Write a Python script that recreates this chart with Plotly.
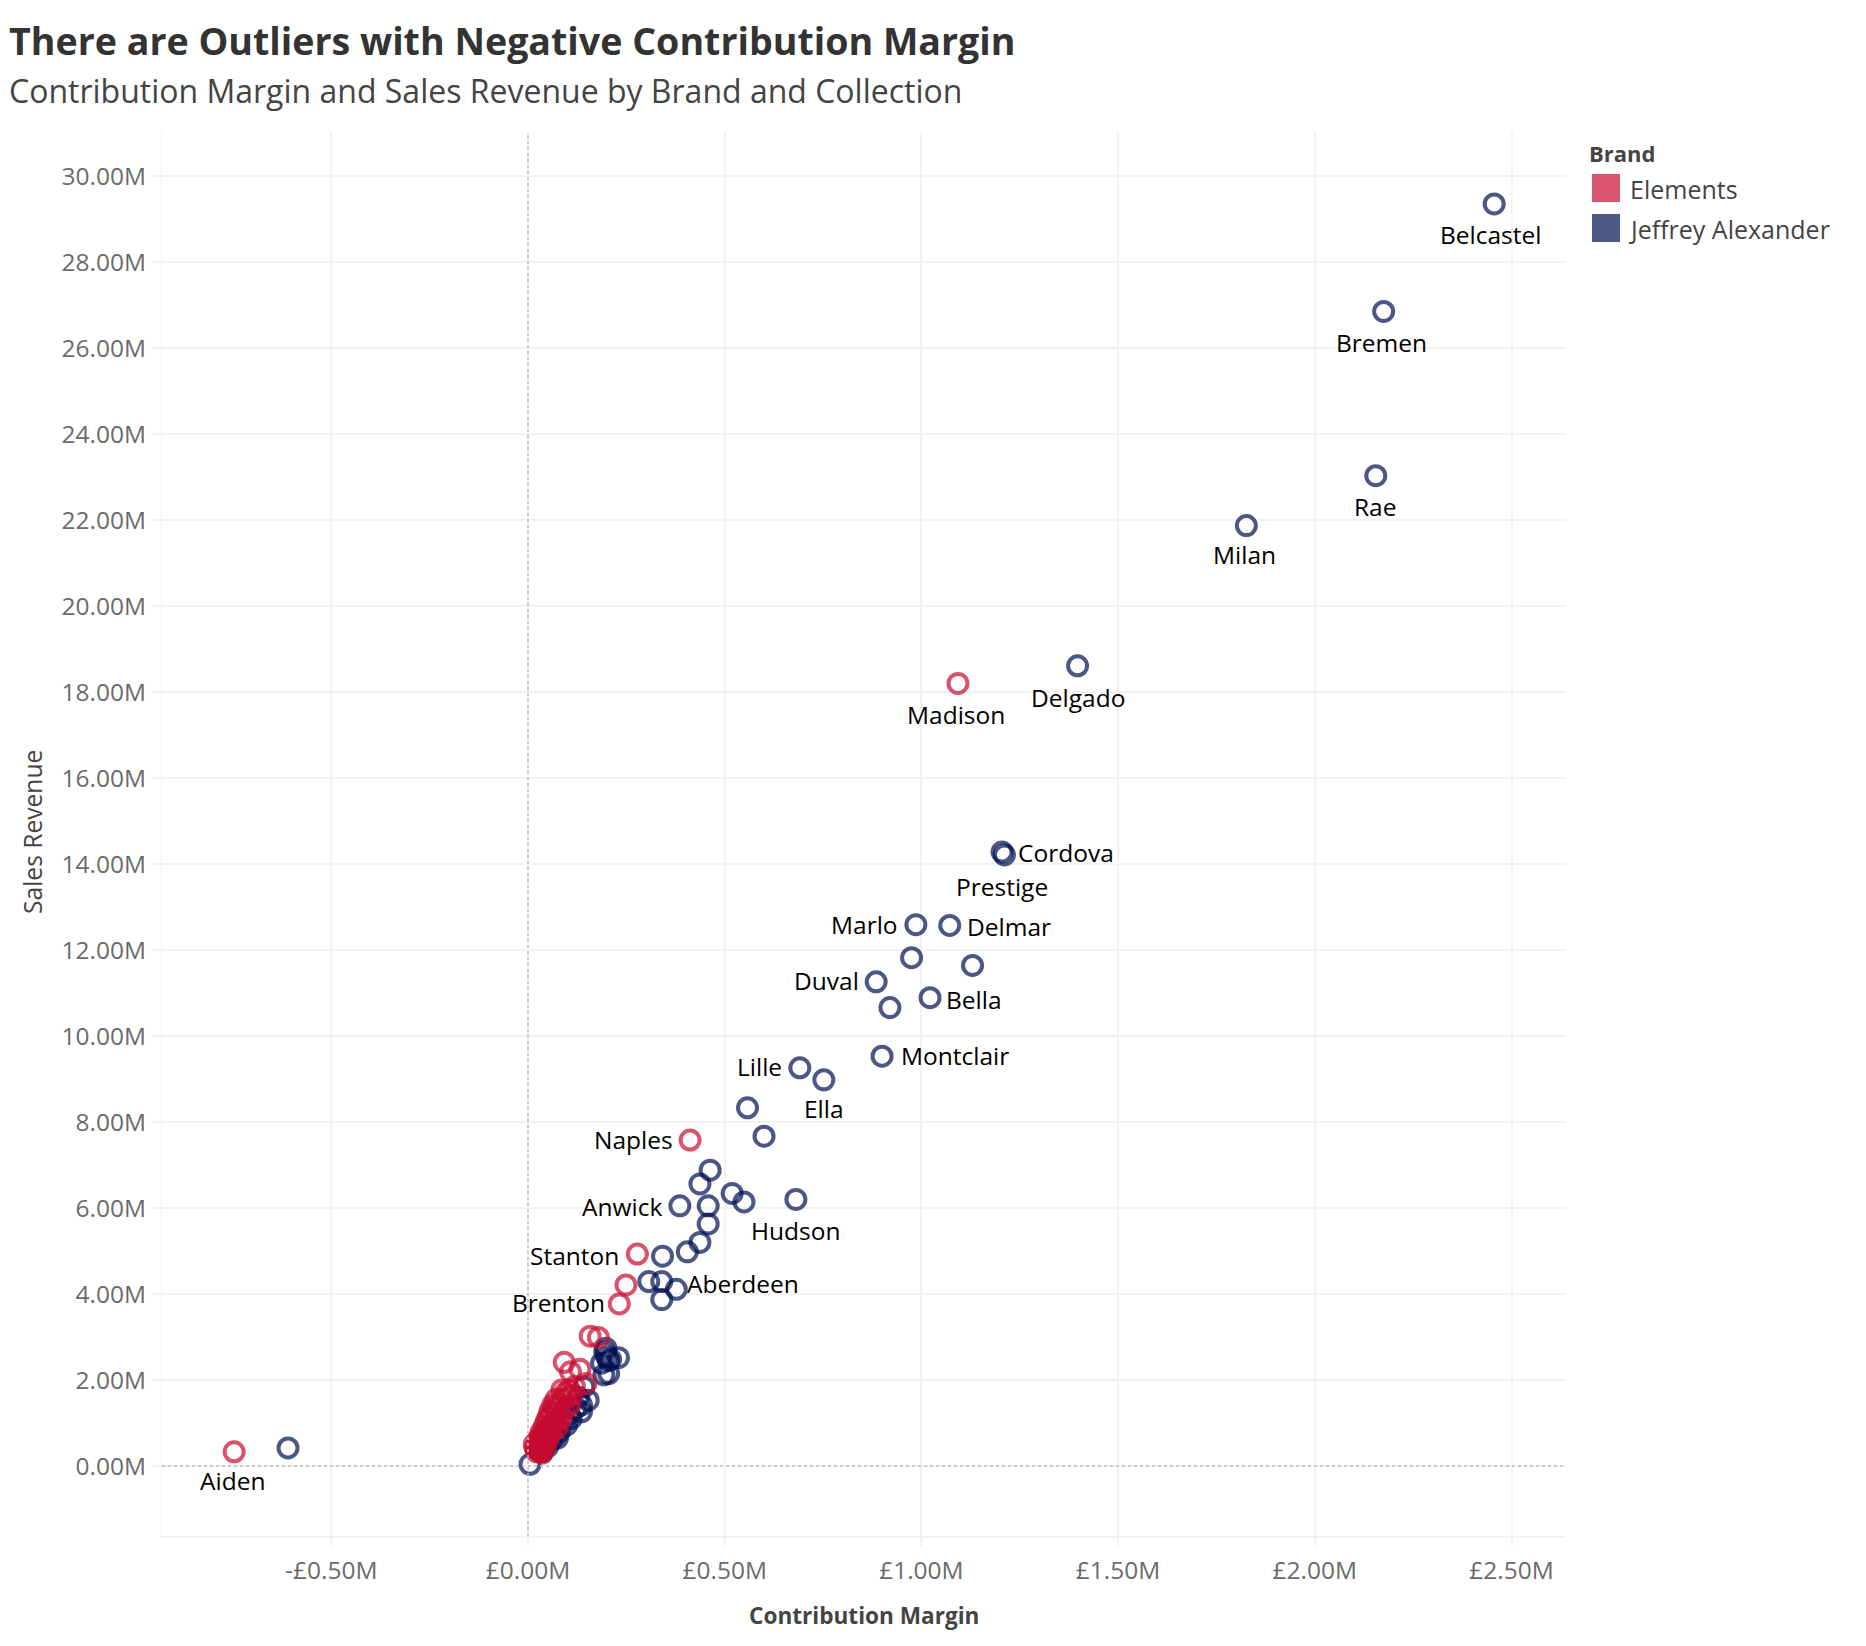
import plotly.graph_objects as go

# ---------- data (values in millions) ----------
blue_names = ["Belcastel","Bremen","Rae","Milan","Delgado","Prestige","Cordova","Marlo","Delmar","","","Duval","Bella","","Montclair","Lille","Ella","","","","","","","Hudson","Anwick","","","","","","","","Aberdeen","",
  "","","","","","","","","","","","","","","","","","","","","","","","","","","","",""]
blue_x = [2.456,2.175,2.155,1.826,1.397,1.205,1.211,0.986,1.072,0.975,1.130,0.885,1.022,0.920,0.900,0.691,0.752,0.558,0.600,0.463,0.437,0.519,0.549,0.681,0.386,0.458,0.458,0.437,0.405,0.342,0.307,0.340,0.377,0.340,
  0.198,0.200,0.230,0.205,0.187,0.193,0.205,0.142,0.153,0.136,0.136,0.122,0.110,0.098,0.090,0.080,0.069,0.060,0.050,0.037,0.030,0.005,-0.610,0.195,0.210,0.128,0.105,0.075,0.045]
blue_y = [29.35,26.85,23.03,21.87,18.61,14.28,14.21,12.59,12.57,11.82,11.64,11.26,10.89,10.66,9.53,9.26,8.98,8.33,7.67,6.88,6.56,6.34,6.14,6.20,6.05,6.05,5.63,5.20,4.98,4.88,4.29,4.29,4.11,3.87,
  2.74,2.54,2.52,2.45,2.39,2.12,2.15,1.84,1.53,1.42,1.26,1.35,1.10,0.95,1.02,0.80,0.72,0.60,0.45,0.33,0.40,0.04,0.42,2.65,2.48,1.60,1.20,0.65,0.52]

red_names = ["Madison","Naples","Stanton","","Brenton","Aiden"] + [""]*54
red_x = [1.093,0.412,0.278,0.249,0.232,-0.747,
  0.179,0.158,0.132,0.108,0.092,0.147,0.105,0.086,0.118,0.112,0.100,0.095,0.088,0.080,0.105,0.092,0.076,0.072,0.062,0.085,0.078,0.070,0.065,0.058,0.052,0.048,0.060,0.055,0.045,0.040,0.050,0.042,0.038,0.034,0.030,0.028,0.025,0.035,0.032,0.044,0.068,0.075,
  0.016,0.018,0.022,0.030,0.036,0.026,0.033,0.041,0.047,0.056,0.063,0.071]
red_y = [18.20,7.58,4.93,4.21,3.77,0.33,
  2.99,3.02,2.25,2.19,2.41,1.92,1.77,1.77,1.85,1.65,1.60,1.70,1.55,1.45,1.40,1.30,1.35,1.25,1.20,1.15,1.05,1.10,1.00,0.95,1.15,0.85,0.80,0.75,0.70,0.65,0.60,0.55,0.50,0.58,0.48,0.42,0.40,0.72,0.36,0.45,1.38,0.90,
  0.50,0.42,0.33,0.33,0.30,0.62,0.78,0.92,1.05,1.28,1.42,1.55]

x_ticks = [-0.5,0,0.5,1,1.5,2,2.5]
x_tick_labels = ["-£0.50M","£0.00M","£0.50M","£1.00M","£1.50M","£2.00M","£2.50M"]
y_ticks = list(range(0,31,2))
y_tick_labels = [f"{v:d}.00M" for v in y_ticks]

brands = ["Elements","Jeffrey Alexander"]
title_text = "There are Outliers with Negative Contribution Margin"
subtitle_text = "Contribution Margin and Sales Revenue by Brand and Collection"

# ---------- styling ----------
W, H = 1866, 1646
L, R, T, B = 162, 1566, 132, 1536
RED, BLUE = "#C80B30", "#001051"
RED_S, BLUE_S = "#D9546E", "#4C5885"
GRID = "#F2F2F2"
FONT = "Open Sans"

# label offsets in pixels (dx right, dy down)
label_offsets = {
 "Belcastel":(-4,31),"Bremen":(-2,31),"Rae":(0,31),"Milan":(-2,29),"Delgado":(0,32),"Madison":(-2,31),
 "Cordova":(62,-2),"Prestige":(0,35),"Marlo":(-51,0),"Delmar":(59,1),"Duval":(-50,-1),"Bella":(44,2),
 "Montclair":(73,-1),"Lille":(-40,-1),"Ella":(0,29),"Naples":(-57,-1),"Anwick":(-58,1),"Hudson":(0,31),
 "Stanton":(-63,1),"Aberdeen":(67,-6),"Brenton":(-61,-1),"Aiden":(-2,29),
}

def px(v): return (v - L) / (R - L)
def py(v): return (B - v) / (B - T)

fig = go.Figure()
for name, xs, ys, col in [(brands[1], blue_x, blue_y, BLUE), (brands[0], red_x, red_y, RED)]:
    fig.add_trace(go.Scatter(x=xs, y=ys, mode="markers", name=name, showlegend=False,
        marker=dict(symbol="circle-open", size=19, opacity=0.7, line=dict(width=4, color=col), color=col)))

annotations = []
for names, xs, ys in [(blue_names, blue_x, blue_y), (red_names, red_x, red_y)]:
    for n, xv, yv in zip(names, xs, ys):
        if n:
            dx, dy = label_offsets[n]
            annotations.append(dict(x=xv, y=yv, xref="x", yref="y", text=n, showarrow=False,
                xanchor="center", yanchor="middle", xshift=dx, yshift=-dy,
                font=dict(family=FONT, size=24.5, color="#000000")))

def txt(x, y, s, size, color, anchor="left", angle=0):
    annotations.append(dict(x=px(x), y=py(y), xref="paper", yref="paper", text=s, showarrow=False,
        xanchor=anchor, yanchor="middle", textangle=angle, font=dict(family=FONT, size=size, color=color)))

txt(7, 41, f"<b>{title_text}</b>", 37.6, "#333333")
txt(7, 91, subtitle_text, 32, "#444444")
txt(1587, 153, "<b>Brand</b>", 22, "#444444")
txt(1628, 189, brands[0], 25, "#444444")
txt(1627, 229, brands[1], 25, "#444444")
txt(864, 1615, "<b>Contribution Margin</b>", 22.6, "#444444", "center")
txt(32, 832, "Sales Revenue", 24.6, "#444444", "center", -90)

shapes = [
    dict(type="rect", xref="paper", yref="paper", x0=px(1592), x1=px(1620), y0=py(174), y1=py(202), fillcolor=RED_S, line=dict(width=0)),
    dict(type="rect", xref="paper", yref="paper", x0=px(1592), x1=px(1620), y0=py(214), y1=py(242), fillcolor=BLUE_S, line=dict(width=0)),
    dict(type="line", xref="x", yref="paper", x0=0, x1=0, y0=0, y1=1, line=dict(color="#BDBDBD", width=1.5, dash="3px,3px")),
    dict(type="line", xref="paper", yref="y", x0=0, x1=1, y0=0, y1=0, line=dict(color="#BDBDBD", width=1.5, dash="3px,3px")),
]

fig.update_layout(
    width=W, height=H, paper_bgcolor="white", plot_bgcolor="white",
    margin=dict(l=L, r=W-R, t=T, b=H-B, pad=0), showlegend=False,
    annotations=annotations, shapes=shapes,
    font=dict(family=FONT),
    xaxis=dict(range=[(L-528)/393.4, (R-528)/393.4], tickmode="array", tickvals=x_ticks, ticktext=x_tick_labels,
        showgrid=True, gridcolor=GRID, gridwidth=1.5, zeroline=False, showline=True, linecolor=GRID, linewidth=2,
        ticks="outside", ticklen=8, tickcolor=GRID, tickwidth=1.5, ticklabelstandoff=4, tickfont=dict(family=FONT, size=24.5, color="#6B6B6B")),
    yaxis=dict(range=[(1466-B)/43, (1466-T)/43], tickmode="array", tickvals=y_ticks, ticktext=y_tick_labels,
        showgrid=True, gridcolor=GRID, gridwidth=2, zeroline=False, showline=True, linecolor=GRID, linewidth=1,
        ticks="outside", ticklen=8, tickcolor=GRID, tickwidth=1.5, ticklabelstandoff=2, tickfont=dict(family=FONT, size=24.5, color="#6B6B6B")),
)

fig.write_html("out.html", post_script="document.body.style.margin='0';", config={"displayModeBar": False})
